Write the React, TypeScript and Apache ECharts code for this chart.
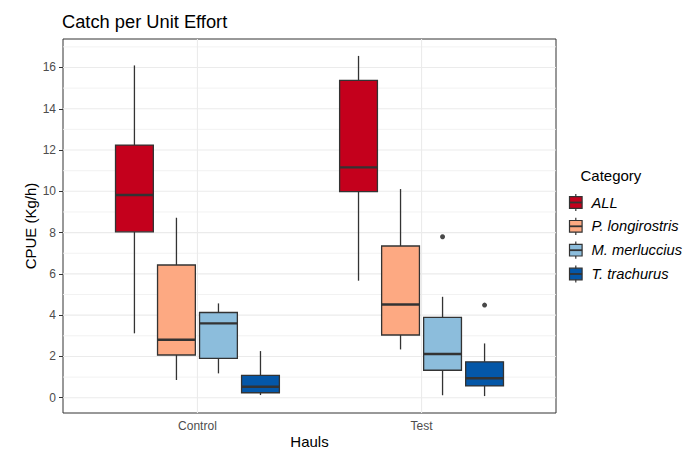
import React, { useEffect, useRef } from 'react';
import * as echarts from 'echarts';

// ---- data ----
const groups = ['Control', 'Test'];
const categories = ['ALL', 'P. longirostris', 'M. merluccius', 'T. trachurus'];
const colors = ['#C4001C', '#FDA982', '#8CBDDC', '#0457A8'];
// [lower whisker, Q1, median, Q3, upper whisker] for Control, Test
const allStats = [
  [3.12, 8.04, 9.82, 12.24, 16.1],
  [5.67, 9.99, 11.16, 15.38, 16.56],
];
const longirostrisStats = [
  [0.86, 2.07, 2.81, 6.43, 8.72],
  [2.34, 3.04, 4.52, 7.35, 10.11],
];
const merlucciusStats = [
  [1.18, 1.91, 3.6, 4.13, 4.57],
  [0.12, 1.33, 2.12, 3.89, 4.89],
];
const trachurusStats = [
  [0.13, 0.24, 0.53, 1.08, 2.26],
  [0.08, 0.57, 0.94, 1.74, 2.63],
];
const allOutliers: number[][] = [[], []];
const longirostrisOutliers: number[][] = [[], []];
const merlucciusOutliers: number[][] = [[], [7.8]];
const trachurusOutliers: number[][] = [[], [4.49]];
const yTicks = [0, 2, 4, 6, 8, 10, 12, 14, 16];
const yMinorTicks = [1, 3, 5, 7, 9, 11, 13, 15, 17];

const statsByCategory = [allStats, longirostrisStats, merlucciusStats, trachurusStats];
const outliersByCategory = [allOutliers, longirostrisOutliers, merlucciusOutliers, trachurusOutliers];

const FONT = "'Liberation Sans', Arial, sans-serif";
const DODGE = 0.75;
const SLOT = DODGE / categories.length;
const BOX_W = SLOT * 0.9;
const xPos = (g: number, c: number) => g + 1 + (c - (categories.length - 1) / 2) * SLOT;

export default function App() {
  const ref = useRef<HTMLDivElement>(null);
  useEffect(() => {
    if (!ref.current) return;
    const chart = echarts.init(ref.current, null, { renderer: 'svg' });

    const gridSeries = {
      type: 'custom',
      z: 1,
      silent: true,
      data: [
        ...yMinorTicks.map((v) => [1, v, 0]),
        ...yTicks.map((v) => [1, v, 1]),
        ...groups.map((_, i) => [i + 1, 0, 2]),
      ],
      renderItem: (params: any, api: any) => {
        const cs = params.coordSys;
        const kind = api.value(2);
        if (kind === 2) {
          const x = api.coord([api.value(0), 0])[0];
          return {
            type: 'line',
            shape: { x1: x, y1: cs.y, x2: x, y2: cs.y + cs.height },
            style: { stroke: '#EBEBEB', lineWidth: 1.1 },
          };
        }
        const y = api.coord([1, api.value(1)])[1];
        return {
          type: 'line',
          shape: { x1: cs.x, y1: y, x2: cs.x + cs.width, y2: y },
          style: { stroke: kind === 1 ? '#EBEBEB' : '#F0F0F0', lineWidth: kind === 1 ? 1.1 : 0.9 },
        };
      },
    };

    const boxSeries = categories.map((name, c) => ({
      type: 'custom',
      name,
      z: 3,
      silent: true,
      encode: { x: 0, y: [1, 2, 3, 4, 5] },
      data: statsByCategory[c].map((s, g) => [xPos(g, c), ...s]),
      renderItem: (params: any, api: any) => {
        const x = api.value(0);
        const lo = api.coord([x, api.value(1)]);
        const q1 = api.coord([x - BOX_W / 2, api.value(2)]);
        const med = api.coord([x, api.value(3)]);
        const q3 = api.coord([x + BOX_W / 2, api.value(4)]);
        const hi = api.coord([x, api.value(5)]);
        const cx = lo[0];
        const stroke = '#333333';
        return {
          type: 'group',
          children: [
            { type: 'line', shape: { x1: cx, y1: hi[1], x2: cx, y2: q3[1] }, style: { stroke, lineWidth: 1.3 } },
            { type: 'line', shape: { x1: cx, y1: q1[1], x2: cx, y2: lo[1] }, style: { stroke, lineWidth: 1.3 } },
            {
              type: 'rect',
              shape: { x: q1[0], y: q3[1], width: q3[0] - q1[0], height: q1[1] - q3[1] },
              style: { fill: colors[c], stroke, lineWidth: 1.3 },
            },
            {
              type: 'line',
              shape: { x1: q1[0], y1: med[1], x2: q3[0], y2: med[1] },
              style: { stroke, lineWidth: 2.4 },
            },
          ],
        };
      },
    }));

    const outlierData: number[][] = [];
    outliersByCategory.forEach((byGroup, c) =>
      byGroup.forEach((vals, g) => vals.forEach((v) => outlierData.push([xPos(g, c), v])))
    );
    const outlierSeries = {
      type: 'scatter',
      z: 4,
      silent: true,
      symbol: 'circle',
      symbolSize: 5,
      itemStyle: { color: '#1A1A1A' },
      data: outlierData,
    };

    const legendCenters = [202.5, 226.3, 250.2, 274];
    const legendGraphics: any[] = [];
    categories.forEach((name, i) => {
      const cy = legendCenters[i];
      legendGraphics.push(
        { type: 'line', shape: { x1: 575.8, y1: cy - 8.6, x2: 575.8, y2: cy + 8.6 }, style: { stroke: '#333333', lineWidth: 1.2 } },
        { type: 'rect', shape: { x: 569.5, y: cy - 5.8, width: 12.6, height: 11.6 }, style: { fill: colors[i], stroke: '#333333', lineWidth: 1.2 } },
        { type: 'line', shape: { x1: 569.5, y1: cy, x2: 582.1, y2: cy }, style: { stroke: '#333333', lineWidth: 1.8 } },
        {
          type: 'text',
          x: 591.5,
          y: cy,
          style: {
            text: name,
            font: `italic 14.7px ${FONT}`,
            fill: '#000000',
            textAlign: 'left',
            textVerticalAlign: 'middle',
            align: 'left',
            verticalAlign: 'middle',
          },
        }
      );
    });

    const option: any = {
      animation: false,
      backgroundColor: '#FFFFFF',
      grid: { left: 63, right: 138, top: 39, bottom: 39, show: true, borderColor: '#333333', borderWidth: 1, backgroundColor: 'transparent' },
      xAxis: {
        type: 'value',
        min: 0.4,
        max: 2.6,
        axisLine: { show: false },
        splitLine: { show: false },
        axisTick: { show: true, customValues: [1, 2], length: 4, lineStyle: { color: '#333333', width: 1 } },
        axisLabel: {
          customValues: [1, 2],
          formatter: (v: number) => groups[Math.round(v) - 1] ?? '',
          color: '#4D4D4D',
          fontSize: 12,
          fontFamily: FONT,
          margin: 7,
        },
      },
      yAxis: {
        type: 'value',
        min: -0.74,
        max: 17.38,
        axisLine: { show: false },
        splitLine: { show: false },
        axisTick: { show: true, customValues: yTicks, length: 4, lineStyle: { color: '#333333', width: 1 } },
        axisLabel: {
          customValues: yTicks,
          color: '#4D4D4D',
          fontSize: 12,
          fontFamily: FONT,
          margin: 7,
        },
      },
      graphic: [
        {
          type: 'text',
          x: 62,
          y: 21.5,
          style: { text: 'Catch per Unit Effort', font: `18.3px ${FONT}`, fill: '#000000', textAlign: 'left', textVerticalAlign: 'middle', align: 'left', verticalAlign: 'middle' },
        },
        {
          type: 'text',
          x: 309.5,
          y: 441.5,
          style: { text: 'Hauls', font: `15px ${FONT}`, fill: '#000000', textAlign: 'center', textVerticalAlign: 'middle', align: 'center', verticalAlign: 'middle' },
        },
        {
          type: 'text',
          x: 30,
          y: 226,
          rotation: Math.PI / 2,
          style: { text: 'CPUE (Kg/h)', font: `15px ${FONT}`, fill: '#000000', textAlign: 'center', textVerticalAlign: 'middle', align: 'center', verticalAlign: 'middle' },
        },
        {
          type: 'text',
          x: 580.5,
          y: 175,
          style: { text: 'Category', font: `15px ${FONT}`, fill: '#000000', textAlign: 'left', textVerticalAlign: 'middle', align: 'left', verticalAlign: 'middle' },
        },
        ...legendGraphics,
      ],
      series: [gridSeries, ...boxSeries, outlierSeries],
    };
    chart.setOption(option);
    return () => chart.dispose();
  }, []);

  return (
    <div
      ref={ref}
      style={{ position: 'absolute', left: 0, top: 0, width: 694, height: 452, background: '#FFFFFF' }}
    />
  );
}
